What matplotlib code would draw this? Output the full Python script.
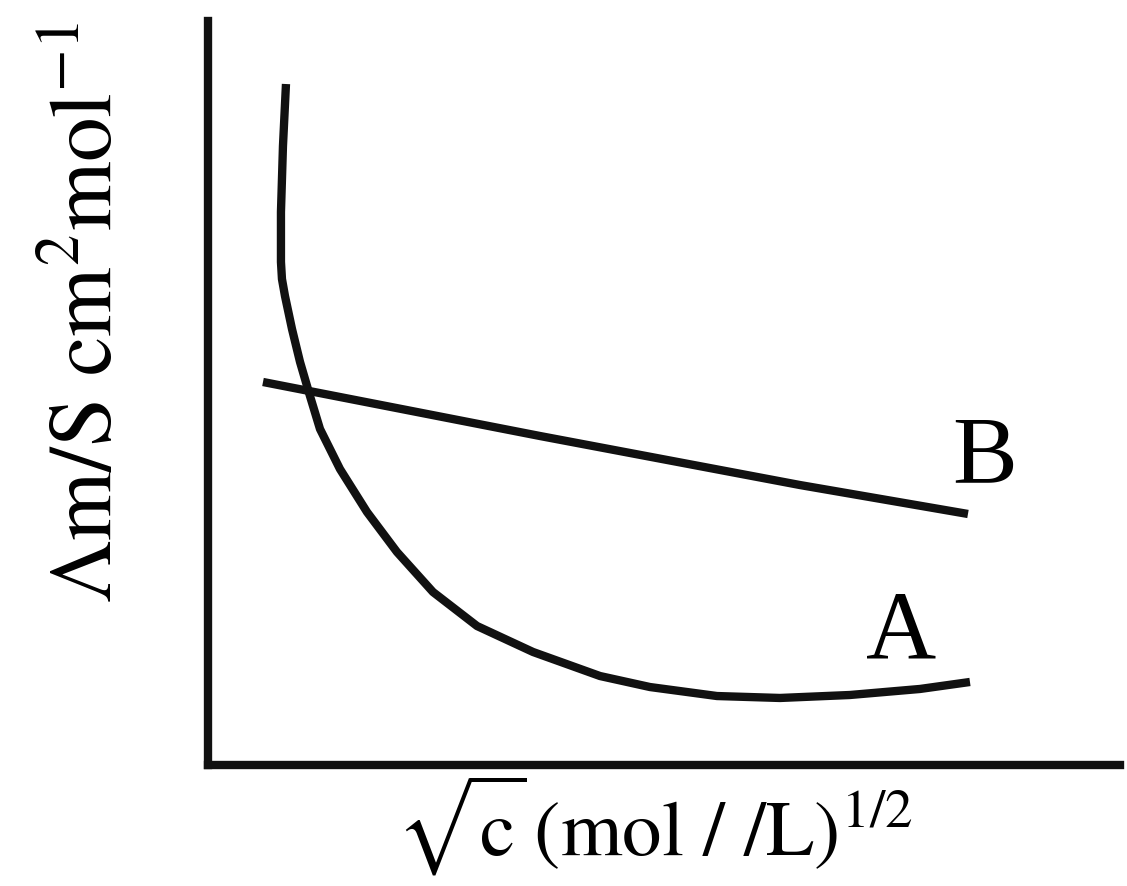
import matplotlib
matplotlib.use('Agg')
import matplotlib.pyplot as plt

plt.rcParams['font.family'] = ['Liberation Serif', 'DejaVu Serif']
plt.rcParams['mathtext.fontset'] = 'stix'

# curve A
a_x = [0.855, 0.822, 0.800, 0.800, 0.811, 0.844, 0.921, 1.009, 1.118, 1.228,
       1.447, 1.743, 2.072, 2.467, 2.950, 3.564, 4.298, 4.846, 5.581, 6.272,
       7.039, 7.807, 8.355]
a_y = [9.153, 8.320, 7.433, 6.761, 6.532, 6.304, 5.860, 5.417, 4.960, 4.516,
       3.978, 3.401, 2.863, 2.325, 1.868, 1.519, 1.196, 1.048, 0.927, 0.901,
       0.941, 1.022, 1.116]

# line B
b_x = [0.603, 3.640, 6.491, 8.333]
b_y = [5.148, 4.422, 3.763, 3.374]

W, H = 1127, 887
fig = plt.figure(figsize=(W / 100, H / 100), dpi=100)
ax = fig.add_axes([208 / W, 1 - 766 / H, (1120 - 208) / W, (766 - 22) / H])

ax.plot(a_x, a_y, color='#111111', lw=6, solid_capstyle='butt',
        solid_joinstyle='round')
ax.plot(b_x, b_y, color='#111111', lw=6, solid_capstyle='butt',
        solid_joinstyle='round')

ax.text(7.60, 1.465, 'A', fontsize=70, ha='center', va='baseline')
ax.text(8.52, 3.80, 'B', fontsize=70, ha='center', va='baseline')

ax.set_xlim(0, 10)
ax.set_ylim(0, 10)
ax.set_xticks([])
ax.set_yticks([])
for s in ['top', 'right']:
    ax.spines[s].set_visible(False)
for s in ['left', 'bottom']:
    ax.spines[s].set_linewidth(6)
    ax.spines[s].set_color('#111111')
    ax.spines[s].set_capstyle('projecting')

fig.text(90 / W, 1 - 312 / H, r'$\Lambda\mathrm{m/S\ cm^{2}mol^{-1}}$',
         fontsize=64, rotation=90, ha='center', va='center')
fig.text(396 / W, 1 - 856 / H,
         r'$\sqrt{\mathrm{c}}\,(\mathrm{mol\ /\ /L})^{1/2}$',
         fontsize=57, ha='left', va='baseline')

fig.savefig('out.png', dpi=100)
